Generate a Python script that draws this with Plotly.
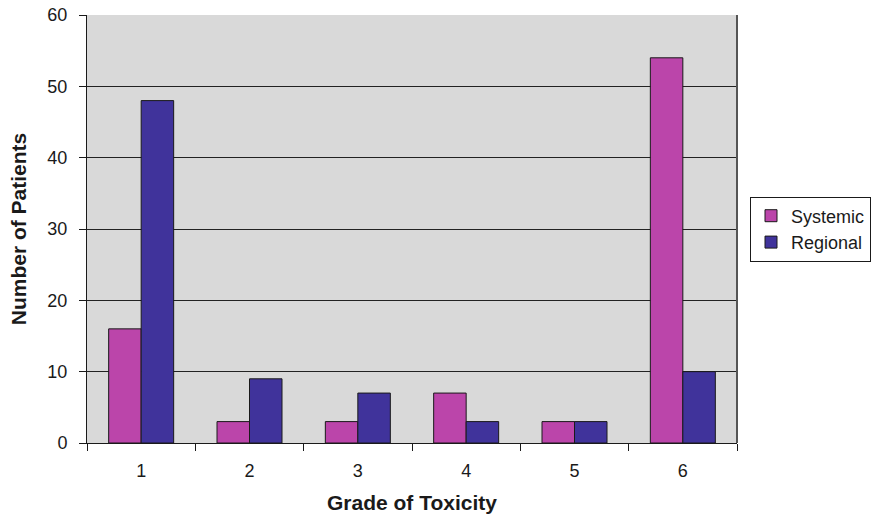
import plotly.graph_objects as go

grades = ["1", "2", "3", "4", "5", "6"]
systemic = [16, 3, 3, 7, 3, 54]
regional = [48, 9, 7, 3, 3, 10]
y_ticks = [0, 10, 20, 30, 40, 50, 60]

FONT = "Liberation Sans, Arial, sans-serif"

fig = go.Figure()
fig.add_trace(go.Bar(
    x=grades, y=systemic, name="Systemic",
    marker=dict(color="#BB45AA", line=dict(color="#1a1a1a", width=1)),
))
fig.add_trace(go.Bar(
    x=grades, y=regional, name="Regional",
    marker=dict(color="#40339B", line=dict(color="#1a1a1a", width=1)),
))

fig.update_layout(
    width=883, height=515,
    margin=dict(l=87, r=142, t=15, b=72),
    paper_bgcolor="white",
    plot_bgcolor="#D9D9D9",
    barmode="group",
    bargap=0.4,
    bargroupgap=0,
    font=dict(family=FONT, size=18, color="#1a1a1a"),
    legend=dict(
        x=1.02, xanchor="left", y=0.5, yanchor="middle",
        bgcolor="white", bordercolor="#1a1a1a", borderwidth=1,
        font=dict(size=18), itemwidth=30, tracegroupgap=2,
    ),
    shapes=[dict(type="line", xref="paper", yref="paper",
                 x0=1, x1=1, y0=0, y1=1,
                 line=dict(color="#555555", width=2))],
)

fig.update_xaxes(
    type="category", automargin=False,
    showline=True, linecolor="#1a1a1a", linewidth=1,
    ticks="outside", tickson="boundaries", ticklen=7, tickcolor="#1a1a1a",
    ticklabelstandoff=11,
    showgrid=False,
    title=dict(text="<b>Grade of Toxicity</b>", font=dict(size=21), standoff=15),
)
fig.update_yaxes(
    range=[0, 60], tickvals=y_ticks, automargin=False,
    showline=True, linecolor="#1a1a1a", linewidth=1,
    ticks="outside", ticklen=7, tickcolor="#1a1a1a",
    ticklabelstandoff=8,
    showgrid=True, gridcolor="#222222", gridwidth=1,
    zeroline=False,
    title=dict(text="<b>Number of Patients</b>", font=dict(size=21), standoff=15),
)

fig.write_html("out.html")
